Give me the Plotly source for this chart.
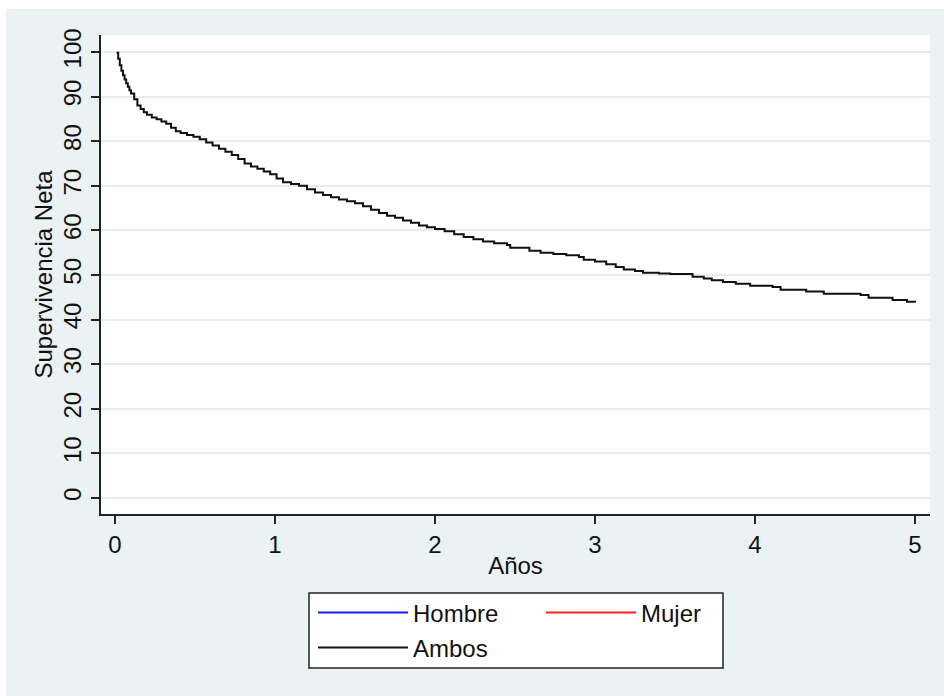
import plotly.graph_objects as go

# Data
years = [0.01, 0.02, 0.03, 0.04, 0.05, 0.06, 0.07, 0.08, 0.09, 0.10, 0.12, 0.14, 0.16,
         0.18, 0.20, 0.23, 0.26, 0.29, 0.32, 0.35, 0.38, 0.41, 0.45, 0.49, 0.53, 0.57,
         0.61, 0.65, 0.69, 0.73, 0.77, 0.81, 0.85, 0.89, 0.93, 0.97, 1.01, 1.05, 1.10,
         1.15, 1.20, 1.25, 1.30, 1.35, 1.40, 1.45, 1.50, 1.55, 1.60, 1.65, 1.70, 1.75,
         1.80, 1.85, 1.90, 1.95, 2.00, 2.06, 2.12, 2.18, 2.24, 2.30, 2.37, 2.45, 2.47,
         2.59, 2.66, 2.74, 2.82, 2.90, 2.93, 3.00, 3.07, 3.13, 3.18, 3.25, 3.30, 3.40,
         3.47, 3.61, 3.68, 3.73, 3.80, 3.88, 3.97, 4.11, 4.16, 4.32, 4.43, 4.66, 4.71,
         4.86, 4.95, 5.00]
ambos = [99.8, 98.5, 97.0, 95.8, 94.8, 93.8, 93.0, 92.2, 91.4, 90.7, 89.4, 88.0, 87.2,
         86.5, 85.9, 85.3, 84.9, 84.4, 83.9, 83.0, 82.2, 81.8, 81.4, 81.0, 80.4, 79.7,
         79.0, 78.3, 77.6, 76.9, 76.0, 75.0, 74.3, 73.8, 73.2, 72.6, 71.6, 70.8, 70.4,
         70.0, 69.2, 68.5, 67.9, 67.4, 66.9, 66.5, 66.1, 65.4, 64.6, 63.9, 63.3, 62.8,
         62.2, 61.7, 61.1, 60.7, 60.3, 59.8, 59.1, 58.5, 58.0, 57.5, 57.1, 56.7, 56.1,
         55.4, 55.0, 54.7, 54.4, 54.0, 53.4, 53.0, 52.4, 51.8, 51.2, 50.9, 50.5, 50.3,
         50.2, 49.6, 49.2, 48.8, 48.4, 48.0, 47.6, 47.3, 46.7, 46.3, 45.8, 45.5, 44.9,
         44.4, 44.0, 43.8]
# Hombre and Mujer appear only in the legend (no visible curve in the reference)
hombre_x, hombre_y = [None], [None]
mujer_x, mujer_y = [None], [None]
x_ticks = [0, 1, 2, 3, 4, 5]
y_ticks = [0, 10, 20, 30, 40, 50, 60, 70, 80, 90, 100]

BG = "#EAF2F3"
FONT = "Liberation Sans, Arial, sans-serif"
FS = 24

fig = go.Figure()
fig.add_trace(go.Scatter(x=hombre_x, y=hombre_y, mode="lines", name="Hombre",
                         line=dict(color="#1a1aff", width=2), legend="legend"))
fig.add_trace(go.Scatter(x=mujer_x, y=mujer_y, mode="lines", name="Mujer",
                         line=dict(color="#ff2020", width=2), legend="legend"))
fig.add_trace(go.Scatter(x=years, y=ambos, mode="lines", name="Ambos", line_shape="hv",
                         line=dict(color="#111111", width=2), legend="legend2"))

L, R, T, B = 101, 14, 35, 182
W, H = 944, 696
pw, ph = W - L - R, H - T - B

def px(xp):
    return (xp - L) / pw

def py(yp):
    return (H - B - yp) / ph

shapes = [
    # legend frame
    dict(type="rect", xref="paper", yref="paper", x0=px(309), x1=px(723), y0=py(668), y1=py(593),
         fillcolor="white", line=dict(color="#222222", width=1.5), layer="above"),
    # white outer border strips
    dict(type="rect", xref="paper", yref="paper", x0=px(0), x1=px(6), y0=py(H), y1=py(0),
         fillcolor="white", line=dict(width=0), layer="above"),
    dict(type="rect", xref="paper", yref="paper", x0=px(0), x1=px(W), y0=py(9), y1=py(0),
         fillcolor="white", line=dict(width=0), layer="above"),
]

fig.update_layout(
    width=W, height=H,
    margin=dict(l=L, r=R, t=T, b=B),
    paper_bgcolor=BG, plot_bgcolor="white",
    font=dict(family=FONT, size=FS, color="#111111"),
    shapes=shapes,
    showlegend=True,
    legend=dict(orientation="h", x=px(313), xanchor="left", y=py(590.5), yanchor="top",
                bgcolor="rgba(0,0,0,0)", borderwidth=0, itemwidth=90,
                entrywidth=123, font=dict(family=FONT, size=FS, color="#111111"),
                tracegroupgap=0),
    legend2=dict(orientation="h", x=px(313), xanchor="left", y=py(625.5), yanchor="top",
                 bgcolor="rgba(0,0,0,0)", borderwidth=0, itemwidth=90,
                 font=dict(family=FONT, size=FS, color="#111111")),
    xaxis=dict(range=[-0.0875, 5.094], tickvals=x_ticks, ticktext=[str(v) for v in x_ticks],
               showgrid=False, zeroline=False, showline=True, linecolor="#222222", linewidth=2,
               ticks="outside", ticklen=8, tickwidth=2, tickcolor="#222222",
               title=dict(text="Años", standoff=0, font=dict(size=FS)),
               tickfont=dict(size=FS)),
    yaxis=dict(range=[-3.6, 103.8], tickvals=y_ticks, ticktext=[str(v) for v in y_ticks],
               showgrid=True, gridcolor="#E4EEF0", gridwidth=1.5, zeroline=False,
               showline=True, linecolor="#222222", linewidth=2,
               ticks="outside", ticklen=8, tickwidth=2, tickcolor="#222222",
               tickangle=-90, tickfont=dict(size=FS),
               title=dict(text="Supervivencia Neta", standoff=0, font=dict(size=FS))),
)

fig.write_html("out.html")
